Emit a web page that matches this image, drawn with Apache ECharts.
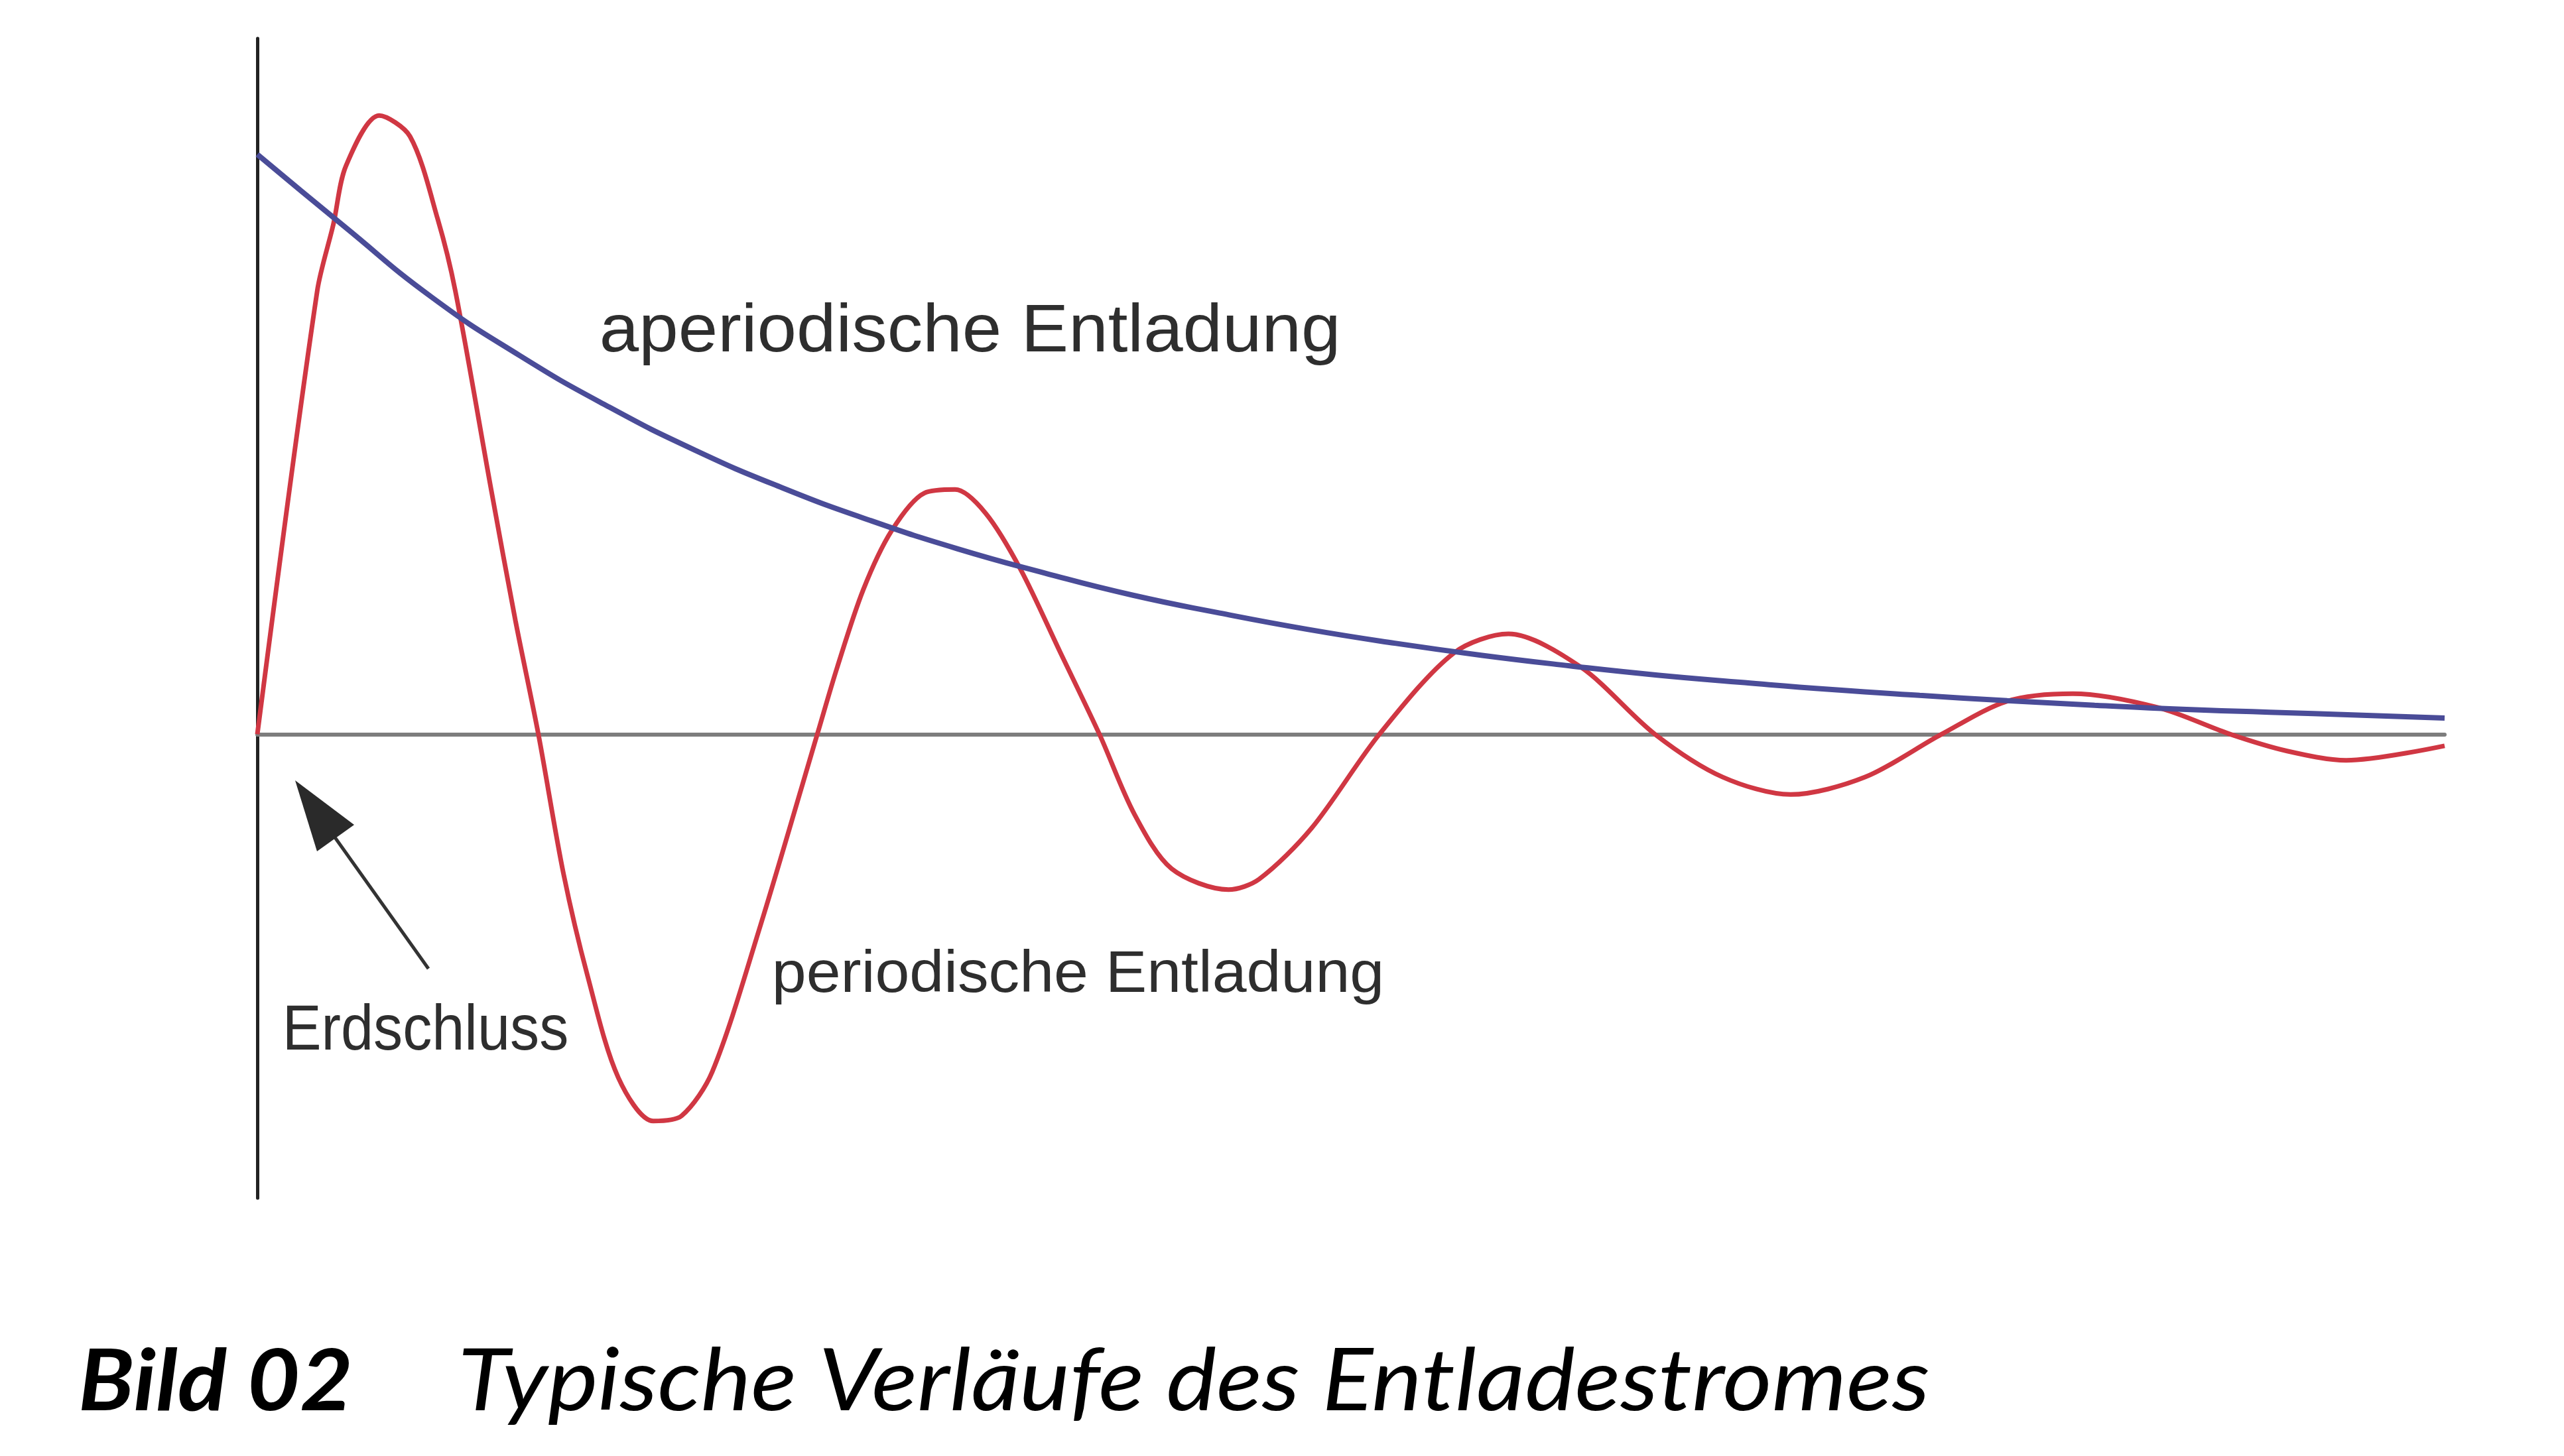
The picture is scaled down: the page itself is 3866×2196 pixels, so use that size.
<!DOCTYPE html>
<html>
<head>
<meta charset="utf-8">
<script src="https://cdn.jsdelivr.net/npm/echarts@6/dist/echarts.min.js"></script>
<style>
html,body{margin:0;padding:0;background:#fff;}
#chart{width:3866px;height:2196px;}
</style>
</head>
<body>
<div id="chart"></div>
<script>
// ---- data (time in arbitrary units, current in % of initial aperiodic value) ----
const tAperiodic = [0,4,8,12,16,20,24,28,32,36,40,44,48,52,56,60,64,68,72,76,80,84,88,92,96,100];
const iAperiodic = [100,87.5,75.3,65.3,56.6,49.0,42.5,36.9,32.0,27.8,24.0,20.9,18.1,15.7,13.6,11.8,10.2,8.9,7.7,6.7,5.8,5.0,4.3,3.8,3.3,2.8];

const tPeriodic = [0,2.74,3.48,4.05,5.57,6.98,8.25,9.05,10.7,11.8,12.85,14.0,15.1,16.5,18.1,19.4,20.8,23.0,25.6,26.5,27.7,29.0,30.5,31.9,33.3,34.9,36.7,38.5,40.1,41.8,44.4,45.8,48.2,51.3,54.7,57.2,60.5,63.9,67.0,70.1,73.5,77.0,80.0,83.0,86.9,90.2,92.8,95.5,100];
const iPeriodic = [0,76.5,88.0,98.0,106.7,103.1,88.8,76.5,42.0,19.6,0,-24.1,-41.7,-59.2,-66.7,-65.8,-58.2,-33.0,0,11.4,24.9,35.1,41.6,42.2,38.1,28.4,14.2,0,-13.8,-23.2,-26.8,-25.0,-16.2,0,14.0,17.3,11.6,0,-7.4,-10.4,-7.4,0,5.7,7.0,4.6,0,-2.9,-4.5,-2.0];

const labelAperiodic = 'aperiodische Entladung';
const labelPeriodic = 'periodische Entladung';
const labelFault = 'Erdschluss';
const captionNumber = 'Bild 02';
const captionText = 'Typische Verläufe des Entladestromes';

const zip = (a, b) => a.map((v, i) => [v, b[i]]);

// ---- text fitting helper (layout only) ----
const mctx = document.createElement('canvas').getContext('2d');
function fitText(txt, fstyle, fweight, family, inkLeft, inkRight, baseline, capH, fill) {
  const probe = 100;
  mctx.textBaseline = 'alphabetic';
  mctx.font = fstyle + ' ' + fweight + ' ' + probe + 'px ' + family;
  const capRatio = mctx.measureText('H').actualBoundingBoxAscent / probe;
  const size = capH / capRatio;
  const font = fstyle + ' ' + fweight + ' ' + size.toFixed(2) + 'px ' + family;
  mctx.font = font;
  const m = mctx.measureText(txt);
  const inkW = m.actualBoundingBoxLeft + m.actualBoundingBoxRight;
  const sx = (inkRight - inkLeft) / inkW;
  mctx.textBaseline = 'middle';
  const off = mctx.measureText('H').actualBoundingBoxDescent;
  return {
    type: 'text',
    x: inkLeft + m.actualBoundingBoxLeft * sx,
    y: baseline - off,
    scaleX: sx,
    z: 100,
    style: {
      text: txt, font: font, fill: fill,
      align: 'left', verticalAlign: 'middle',
      textAlign: 'left', textVerticalAlign: 'middle'
    }
  };
}

const sansFam = '"Liberation Sans", Arial, sans-serif';
const capFam = 'Lato, "Open Sans", sans-serif';
const annColor = '#2e2e2e';

const chart = echarts.init(document.getElementById('chart'), null, {renderer: 'canvas'});
chart.setOption({
  backgroundColor: '#ffffff',
  animation: false,
  grid: {left: 388, right: 180, top: 58, bottom: 389},
  xAxis: {
    type: 'value', min: 0, max: 100,
    axisLine: {show: true, onZero: true, lineStyle: {color: '#7d7d7d', width: 6}},
    axisTick: {show: false}, axisLabel: {show: false}, splitLine: {show: false}
  },
  yAxis: {
    type: 'value', min: -80, max: 120,
    axisLine: {show: true, lineStyle: {color: '#222222', width: 5}},
    axisTick: {show: false}, axisLabel: {show: false}, splitLine: {show: false}
  },
  series: [
    {
      name: labelPeriodic, type: 'line', data: zip(tPeriodic, iPeriodic),
      showSymbol: false, smooth: 0.3,
      lineStyle: {color: '#d03743', width: 7}
    },
    {
      name: labelAperiodic, type: 'line', data: zip(tAperiodic, iAperiodic),
      showSymbol: false, smooth: true,
      lineStyle: {color: '#4a4c98', width: 8}
    }
  ],
  graphic: [
    fitText(labelAperiodic, 'normal', 'normal', sansFam, 908, 2015, 530, 71, annColor),
    fitText(labelPeriodic, 'normal', 'normal', sansFam, 1169, 2082, 1497, 62, annColor),
    fitText(labelFault, 'normal', 'normal', sansFam, 432, 855, 1583, 67, annColor),
    fitText(captionNumber, 'italic', 'bold', capFam, 122, 527, 2127, 93, '#000000'),
    fitText(captionText, 'italic', 'normal', capFam, 698, 2908, 2127, 92, '#000000'),
    {
      type: 'line', z: 100,
      shape: {x1: 646, y1: 1461, x2: 500, y2: 1256},
      style: {stroke: '#333333', lineWidth: 5}
    },
    {
      type: 'polygon', z: 100,
      shape: {points: [[445, 1177], [478, 1284], [534, 1244]]},
      style: {fill: '#2a2a2a'}
    }
  ]
});
</script>
</body>
</html>
